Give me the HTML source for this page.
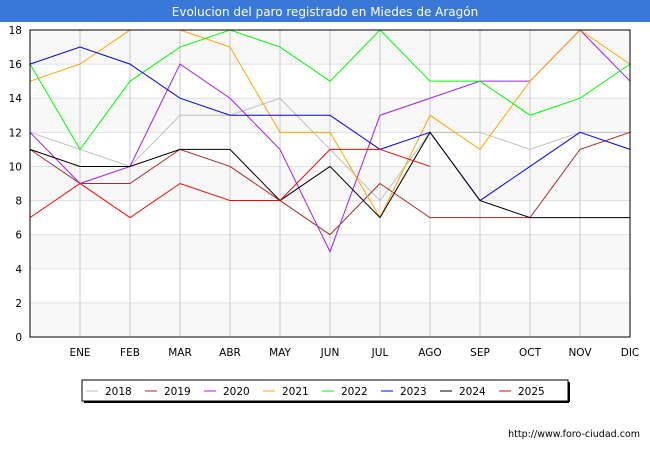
<!DOCTYPE html>
<html><head><meta charset="utf-8"><style>
body{margin:0;background:#fff;font-family:"DejaVu Sans","Liberation Sans",sans-serif}
</style></head><body>
<svg width="650" height="450" xmlns="http://www.w3.org/2000/svg" font-family="DejaVu Sans, Liberation Sans, sans-serif">
<rect x="0" y="0" width="650" height="22" fill="#3a78d8"/>
<text x="325" y="16" text-anchor="middle" font-size="12" fill="#fff">Evolucion del paro registrado en Miedes de Aragón</text>
<g id="grid"></g><g id="series"></g><g id="axes"></g>
<rect x="82" y="380" width="486" height="21" fill="#fff" stroke="#000"/>
<line x1="84" y1="402" x2="569" y2="402" stroke="#000" stroke-width="2"/>
<line x1="569" y1="382" x2="569" y2="402" stroke="#000" stroke-width="2"/>
<g id="legend"></g>
<text x="640" y="437" text-anchor="end" font-size="9.5" fill="#000">http://www.foro-ciudad.com</text>
</svg>
<script>
const months=["","ENE","FEB","MAR","ABR","MAY","JUN","JUL","AGO","SEP","OCT","NOV","DIC"];
const yTicks=[0,2,4,6,8,10,12,14,16,18];
const years=["2018","2019","2020","2021","2022","2023","2024","2025"];
const colors=["#c0c0c0","#a52a2a","#a020f0","#ffa500","#00ff00","#0000ff","#000000","#ff0000"];
const s2018=[12,11,10,13,13,14,11,8,12,12,11,12,12];
const s2019=[11,9,9,11,10,8,6,9,7,7,7,11,12];
const s2020=[12,9,10,16,14,11,5,13,14,15,15,18,15];
const s2021=[15,16,18,18,17,12,12,7,13,11,15,18,16];
const s2022=[16,11,15,17,18,17,15,18,15,15,13,14,16];
const s2023=[16,17,16,14,13,13,13,11,12,8,10,12,11];
const s2024=[11,10,10,11,11,8,10,7,12,8,7,7,7];
const s2025=[7,9,7,9,8,8,11,11,10];
const allSeries=[s2018,s2019,s2020,s2021,s2022,s2023,s2024,s2025];
const NS="http://www.w3.org/2000/svg";
const X0=30,X1=630,Y0=337,Y1=30;
const xs=i=>X0+i*(X1-X0)/12;
const ys=v=>Y0-v*(Y0-Y1)/18;
function mk(t,a,p){const e=document.createElementNS(NS,t);for(const k in a)e.setAttribute(k,a[k]);p.appendChild(e);return e;}
const grid=document.getElementById('grid');
for(let i=0;i<9;i++){const b=mk('rect',{x:X0,y:ys(yTicks[i+1]),width:X1-X0,height:ys(yTicks[i])-ys(yTicks[i+1]),fill:i%2==0?'#f8f8f8':'#fff'},grid);

}
yTicks.forEach(v=>{const l=mk('line',{x1:X0,x2:X1,y1:ys(v),y2:ys(v),stroke:'#e0e0e0'},grid);


const t=mk('text',{x:22,y:ys(v)+4,'text-anchor':'end','font-size':10.5},grid);t.textContent=v;

});
months.forEach((m,i)=>{const l=mk('line',{x1:xs(i),x2:xs(i),y1:Y1,y2:Y0,stroke:'#c8c8c8'},grid);


if(m){const t=mk('text',{x:xs(i),y:356,'text-anchor':'middle','font-size':10.5},grid);t.textContent=m;

}});
const sg=document.getElementById('series');
allSeries.forEach((d,k)=>{const p=mk('polyline',{points:d.map((v,i)=>xs(i)+','+ys(v)).join(' '),fill:'none',stroke:colors[k],'stroke-width':1},sg);

});
const ax=document.getElementById('axes');
const fr=mk('rect',{x:X0,y:Y1,width:X1-X0,height:Y0-Y1,fill:'none',stroke:'#000'},ax);


const lg=document.getElementById('legend');
years.forEach((y,k)=>{const x=98+k*59;
const l=mk('line',{x1:x-12,x2:x,y1:391,y2:391,stroke:colors[k]},lg);


const t=mk('text',{x:x+7,y:395,'font-size':10.5},lg);t.textContent=y;

});
</script>
</body></html>
